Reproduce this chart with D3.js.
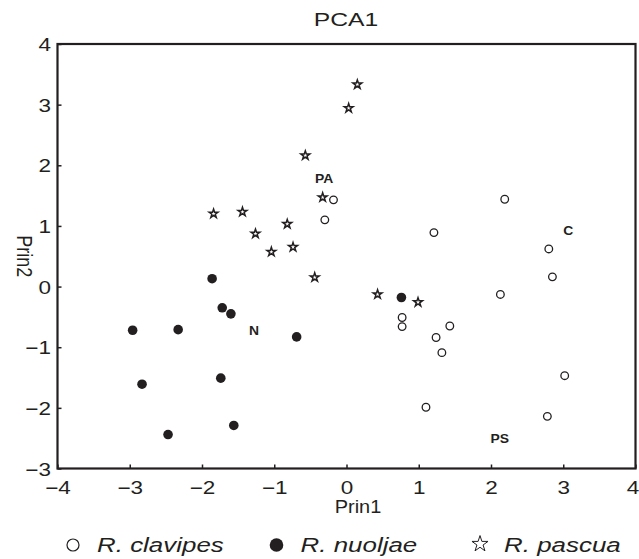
<!DOCTYPE html>
<html>
<head>
<meta charset="utf-8">
<script src="https://cdn.jsdelivr.net/npm/d3@7/dist/d3.min.js"></script>
<style>
  body { margin: 0; background: #fff; }
  text { font-family: "Liberation Sans", Arial, sans-serif; fill: #231f20; }
</style>
</head>
<body>
<svg id="chart" width="639" height="559"></svg>
<script>
'use strict';

// PCA scores (Prin1, Prin2)
const clavipesX = [-0.18, -0.30, 2.19, 1.21, 2.80, 2.85, 2.13, 0.77, 0.77, 1.43, 1.24, 1.32, 3.02, 1.10, 2.78];
const clavipesY = [1.43, 1.10, 1.44, 0.89, 0.62, 0.16, -0.13, -0.51, -0.66, -0.65, -0.84, -1.09, -1.47, -1.99, -2.14];
const nuoljaeX = [-1.86, -1.72, -1.60, -2.96, -2.33, -0.69, -2.83, -1.74, -2.47, -1.56, 0.76];
const nuoljaeY = [0.13, -0.35, -0.45, -0.72, -0.71, -0.83, -1.61, -1.51, -2.44, -2.29, -0.18];
const pascuaX = [0.15, 0.03, -0.57, -0.33, -1.84, -1.44, -1.26, -0.82, -1.04, -0.74, -0.44, 0.43, 0.99];
const pascuaY = [3.34, 2.95, 2.17, 1.48, 1.21, 1.24, 0.88, 1.04, 0.58, 0.66, 0.16, -0.12, -0.25];

// group labels placed in the plot
const groupNames = ['PA', 'N', 'C', 'PS'];
const groupX = [-0.31, -1.28, 3.07, 2.12];
const groupY = [1.79, -0.73, 0.92, -2.50];

const species = ['R. clavipes', 'R. nuoljae', 'R. pascua'];
const xTicks = [-4, -3, -2, -1, 0, 1, 2, 3, 4];
const yTicks = [-3, -2, -1, 0, 1, 2, 3, 4];

const ink = '#231f20';
const fmt = (d) => (d < 0 ? '\u2212' + Math.abs(d) : '' + d);

const svg = d3.select('#chart');
const x = d3.scaleLinear().domain([-4, 4]).range([57.5, 635.5]);
const y = d3.scaleLinear().domain([-3, 4]).range([468.5, 44]);

// title
svg.append('text')
  .attr('transform', 'translate(346,26) scale(1.3,1)')
  .attr('text-anchor', 'middle')
  .style('font-size', '19px')
  .text('PCA1');

// axes, ticks pointing inwards
const xAxis = svg.append('g')
  .attr('transform', `translate(0,${y(-3)})`)
  .call(d3.axisBottom(x).tickValues(xTicks).tickSize(-4).tickFormat(fmt));
const yAxis = svg.append('g')
  .attr('transform', `translate(${x(-4)},0)`)
  .call(d3.axisLeft(y).tickValues(yTicks).tickSize(-4).tickFormat(fmt));
[xAxis, yAxis].forEach((g) => {
  g.select('.domain').remove();
  g.selectAll('line').attr('stroke', ink).attr('stroke-width', 1.5);
  g.selectAll('text').style('font-size', '18px').attr('fill', ink).style('font-family', null);
});
xAxis.selectAll('text')
  .attr('y', null).attr('dy', null)
  .attr('transform', (d) => `translate(${d === 4 ? -3 : 0},25) scale(1.25,1)`);
yAxis.selectAll('text')
  .attr('x', null).attr('dy', null)
  .attr('transform', 'translate(-6.5,6.5) scale(1.25,1)');

// frame
svg.append('rect')
  .attr('x', x(-4)).attr('y', y(4))
  .attr('width', x(4) - x(-4)).attr('height', y(-3) - y(4))
  .attr('fill', 'none').attr('stroke', ink).attr('stroke-width', 2.2);

// axis titles
svg.append('text')
  .attr('transform', 'translate(358,513) scale(1.05,1)')
  .attr('text-anchor', 'middle')
  .style('font-size', '19px')
  .text('Prin1');
svg.append('text')
  .attr('transform', `translate(17,${(y(4) + y(-3)) / 2}) rotate(90) scale(1,1.2)`)
  .attr('text-anchor', 'middle')
  .style('font-size', '18px')
  .text('Prin2');

// points
const plot = svg.append('g');
plot.selectAll('circle.clav')
  .data(d3.zip(clavipesX, clavipesY))
  .join('circle')
  .attr('class', 'clav')
  .attr('cx', (d) => x(d[0])).attr('cy', (d) => y(d[1]))
  .attr('r', 3.8)
  .attr('fill', '#fff').attr('stroke', ink).attr('stroke-width', 1.3);
plot.selectAll('circle.nuol')
  .data(d3.zip(nuoljaeX, nuoljaeY))
  .join('circle')
  .attr('class', 'nuol')
  .attr('cx', (d) => x(d[0])).attr('cy', (d) => y(d[1]))
  .attr('r', 4.8)
  .attr('fill', ink);
const star = d3.symbol(d3.symbolStar, 24);
plot.selectAll('path.pasc')
  .data(d3.zip(pascuaX, pascuaY))
  .join('path')
  .attr('class', 'pasc')
  .attr('d', star)
  .attr('transform', (d) => `translate(${x(d[0])},${y(d[1]) + 0.5})`)
  .attr('fill', '#fff').attr('stroke', ink).attr('stroke-width', 1.5)
  .attr('stroke-linejoin', 'miter');

// group labels
plot.selectAll('text.grp')
  .data(groupNames)
  .join('text')
  .attr('class', 'grp')
  .attr('transform', (d, i) => `translate(${x(groupX[i])},${y(groupY[i]) + 4.5}) scale(1.07,1)`)
  .attr('text-anchor', 'middle')
  .style('font-size', '13px')
  .style('font-weight', 'bold')
  .text((d) => d);

// legend
const lx = d3.scalePoint().domain(species).range([73, 480]);
const leg = svg.append('g')
  .selectAll('g')
  .data(species)
  .join('g')
  .attr('transform', (d) => `translate(${lx(d)},545)`);
leg.filter((d, i) => i === 0).append('circle')
  .attr('r', 6).attr('fill', '#fff').attr('stroke', ink).attr('stroke-width', 1.2);
leg.filter((d, i) => i === 1).append('circle')
  .attr('r', 6.8).attr('fill', ink);
leg.filter((d, i) => i === 2).append('path')
  .attr('d', d3.symbol(d3.symbolStar, 80))
  .attr('transform', 'translate(0,-1)')
  .attr('fill', '#fff').attr('stroke', ink).attr('stroke-width', 1);
leg.append('text')
  .attr('transform', 'translate(24,7) scale(1.33,1)')
  .style('font-size', '19.5px')
  .style('font-style', 'italic')
  .text((d) => d);
</script>
</body>
</html>
